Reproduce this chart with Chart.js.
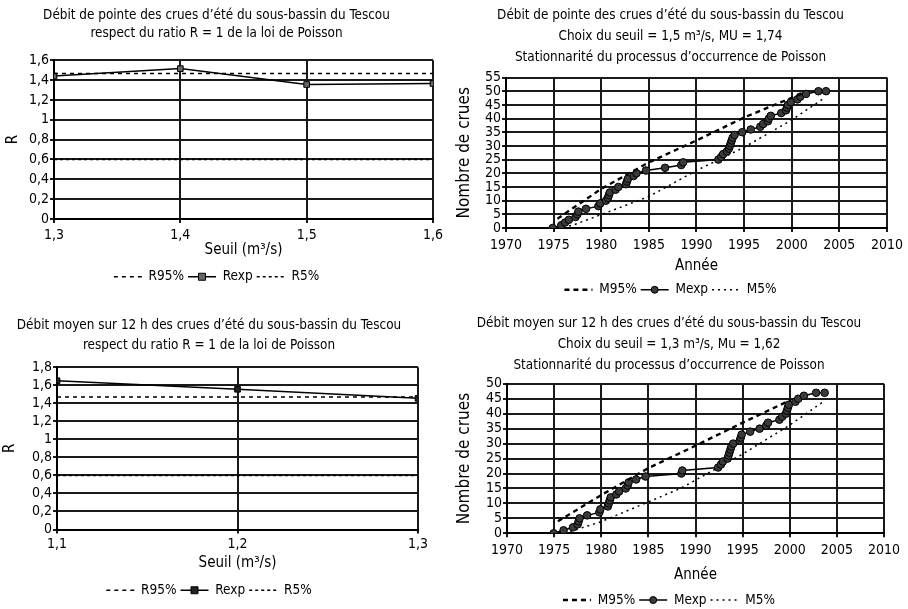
<!DOCTYPE html>
<html>
<head>
<meta charset="utf-8">
<script src="https://cdn.jsdelivr.net/npm/chart.js@4/dist/chart.umd.min.js"></script>
<style>
  body { margin: 0; background: #fff; width: 908px; height: 609px; position: relative; overflow: hidden; }
  canvas { position: absolute; }
</style>
</head>
<body>
<canvas id="ratioPointe" width="454" height="300" style="left:0;top:0"></canvas>
<canvas id="stationPointe" width="454" height="310" style="left:454px;top:0"></canvas>
<canvas id="ratioMoyen" width="454" height="309" style="left:0;top:300px"></canvas>
<canvas id="stationMoyen" width="454" height="320" style="left:454px;top:300px"></canvas>
<script>
// Débit de pointe - ratio R selon le seuil
const seuilPointe = [1.3, 1.4, 1.5, 1.6];
const rexpPointe = [1.44, 1.515, 1.355, 1.365];
const r95Pointe = [1.465, 1.465, 1.465, 1.465];
const r5Pointe = [0.6, 0.6, 0.6, 0.6];

// Débit moyen sur 12 h - ratio R selon le seuil
const seuilMoyen = [1.1, 1.2, 1.3];
const rexpMoyen = [1.65, 1.555, 1.455];
const r95Moyen = [1.47, 1.47, 1.47];
const r5Moyen = [0.6, 0.6, 0.6];

// Débit de pointe - cumul des crues (seuil 1,5 m3/s)
const anneesPointe = [1974.9, 1975.8, 1976.2, 1976.6, 1977.3, 1977.5, 1977.6, 1978.4, 1979.7, 1979.9,
  1980.5, 1980.7, 1980.8, 1980.9, 1981.5, 1981.8, 1982.6, 1982.7, 1982.8, 1983.4,
  1983.7, 1984.7, 1986.7, 1988.4, 1988.6, 1992.3, 1992.6, 1992.8, 1993.2, 1993.4,
  1993.5, 1993.6, 1993.7, 1993.8, 1994.0, 1994.8, 1995.7, 1996.7, 1997.0, 1997.5,
  1997.6, 1997.8, 1998.9, 1999.4, 1999.5, 1999.6, 1999.9, 2000.6, 2000.9, 2001.5,
  2002.8, 2003.6];
const cruesPointe = [0, 1, 2, 3, 4, 5, 6, 7, 8, 9,
  10, 11, 12, 13, 14, 15, 16, 17, 18, 19,
  20, 21, 22, 23, 24, 25, 26, 27, 28, 29,
  30, 31, 32, 33, 34, 35, 36, 37, 38, 39,
  40, 41, 42, 43, 44, 45, 46, 47, 48, 49,
  50, 50];
const m95PointeX = [1975.4, 1980, 1985, 1990, 1995, 2000, 2001];
const m95PointeY = [3.4, 14.3, 24, 32, 40.4, 47.6, 49];
const m5PointeX = [1976, 1977, 1980, 1985, 1990, 1995, 2000, 2003.2];
const m5PointeY = [0.3, 1, 4.9, 11.5, 21, 29.5, 39.5, 47];

// Débit moyen sur 12 h - cumul des crues (seuil 1,3 m3/s)
const anneesMoyen = [1974.95, 1976.0, 1977.0, 1977.5, 1977.6, 1977.7, 1978.5, 1979.8, 1979.9, 1980.7,
  1980.8, 1980.9, 1981.0, 1981.6, 1981.9, 1982.6, 1982.8, 1982.9, 1983.7, 1984.7,
  1988.5, 1988.6, 1992.4, 1992.7, 1992.9, 1993.4, 1993.5, 1993.6, 1993.7, 1993.8,
  1994.0, 1994.7, 1994.8, 1994.9, 1995.8, 1996.8, 1997.5, 1997.7, 1998.9, 1999.2,
  1999.6, 1999.7, 1999.8, 1999.9, 2000.6, 2000.9, 2001.5, 2002.8, 2003.7];
const cruesMoyen = [0, 1, 2, 3, 4, 5, 6, 7, 8, 9,
  10, 11, 12, 13, 14, 15, 16, 17, 18, 19,
  20, 21, 22, 23, 24, 25, 26, 27, 28, 29,
  30, 31, 32, 33, 34, 35, 36, 37, 38, 39,
  40, 41, 42, 43, 44, 45, 46, 47, 47];
const m95MoyenX = [1975.4, 1980, 1985, 1990, 1995, 2000.1];
const m95MoyenY = [4, 12.8, 21.8, 29.3, 37, 44.6];
const m5MoyenX = [1976.1, 1980, 1985, 1988.4, 1990, 1995, 2000, 2003.5];
const m5MoyenY = [0, 3.9, 10.5, 15, 17.8, 26.5, 36.2, 43.9];

const FONT = "'Liberation Sans Narrow', 'DejaVu Sans Condensed', 'Arial Narrow', sans-serif";
const INK = '#000';

function pts(xs, ys) {
  return xs.map((x, i) => ({ x, y: ys[i] }));
}

function fmtComma(v) {
  return String(Number(v.toFixed(1))).replace('.', ',');
}

// draws the marker in the middle of the line of the 2nd legend item
const legendMarker = {
  id: 'legendMarker',
  afterDraw(chart) {
    const legend = chart.legend;
    if (!legend || !legend.legendHitBoxes || !legend.legendHitBoxes[1]) return;
    const box = legend.legendHitBoxes[1];
    const ds = chart.data.datasets[1];
    const w = legend.options.labels.pointStyleWidth;
    const cx = box.left + w / 2;
    const cy = box.top + box.height / 2;
    const r = 3.5;
    const ctx = chart.ctx;
    ctx.save();
    ctx.fillStyle = ds.pointBackgroundColor;
    ctx.strokeStyle = ds.pointBorderColor;
    ctx.lineWidth = 1;
    ctx.beginPath();
    if (ds.pointStyle === 'rect') ctx.rect(cx - r, cy - r, r * 2, r * 2);
    else ctx.arc(cx, cy, r, 0, Math.PI * 2);
    ctx.fill();
    ctx.stroke();
    ctx.restore();
  }
};

function axis(opts) {
  return {
    type: 'linear',
    min: opts.min,
    max: opts.max,
    ticks: {
      stepSize: opts.step,
      color: '#000',
      font: { family: FONT, size: 14 },
      padding: opts.tickPad,
      autoSkip: false,
      maxRotation: 0,
      callback: opts.fmt
    },
    grid: { color: '#1a1a1a', lineWidth: 2, tickLength: 4 },
    border: { color: INK, width: 2 },
    title: {
      display: true,
      text: opts.title,
      color: '#000',
      font: { family: FONT, size: opts.titleSize || 15 },
      padding: opts.titlePad
    },
    afterFit: opts.fit
  };
}

function makeChart(id, cfg) {
  return new Chart(document.getElementById(id), {
    type: 'line',
    data: { datasets: cfg.datasets },
    options: {
      responsive: false,
      animation: false,
      layout: { padding: cfg.padding },
      scales: { x: axis(cfg.x), y: axis(cfg.y) },
      plugins: {
        title: {
          display: true,
          text: cfg.title,
          color: '#000',
          font: { family: FONT, size: 13.4, weight: 'normal', lineHeight: cfg.titleLine },
          padding: cfg.titlePad
        },
        legend: {
          position: 'bottom',
          labels: {
            color: '#000',
            font: { family: FONT, size: 13.5 },
            usePointStyle: true,
            pointStyle: 'line',
            pointStyleWidth: 28,
            padding: 4,
            generateLabels: chart => Chart.defaults.plugins.legend.labels.generateLabels(chart).map(item => {
              const ds = chart.data.datasets[item.datasetIndex];
              return { ...item, lineDash: ds.borderDash || [], lineWidth: ds.borderWidth, strokeStyle: ds.borderColor };
            })
          }
        },
        tooltip: { enabled: false }
      }
    },
    plugins: [legendMarker]
  });
}

function ratioSets(xs, r95, rexp, r5, markerFill) {
  return [
    { label: 'R95%', data: pts(xs, r95), borderColor: INK, borderWidth: 1.5, borderDash: [4, 4], pointRadius: 0 },
    { label: 'Rexp', data: pts(xs, rexp), borderColor: INK, borderWidth: 1.5, pointStyle: 'rect', pointRadius: 4,
      pointBackgroundColor: markerFill, pointBorderColor: '#000', pointBorderWidth: 1 },
    { label: 'R5%', data: pts(xs, r5), borderColor: INK, borderWidth: 1.5, borderDash: [3, 3], pointRadius: 0 }
  ];
}

function stationSets(xs, ys, x95, y95, x5, y5) {
  return [
    { label: 'M95%', data: pts(x95, y95), borderColor: INK, borderWidth: 2.4, borderDash: [5, 4], pointRadius: 0 },
    { label: 'Mexp', data: pts(xs, ys), borderColor: INK, borderWidth: 1.5, pointStyle: 'circle', pointRadius: 3.8,
      pointBackgroundColor: '#3a3a3a', pointBorderColor: '#000', pointBorderWidth: 1 },
    { label: 'M5%', data: pts(x5, y5), borderColor: INK, borderWidth: 1.5, borderDash: [2, 4], pointRadius: 0 }
  ];
}

makeChart('ratioPointe', {
  title: ["Débit de pointe des crues d’été du sous-bassin du Tescou", 'respect du ratio R = 1 de la loi de Poisson'],
  titleLine: 1.35,
  titlePad: { top: 6, bottom: 18 },
  padding: { left: 0, right: 21, top: 0, bottom: 6.5 },
  datasets: ratioSets(seuilPointe, r95Pointe, rexpPointe, r5Pointe, '#666'),
  x: { min: 1.3, max: 1.6, step: 0.1, fmt: fmtComma, title: 'Seuil (m³/s)', tickPad: 4, titlePad: { top: 0, bottom: 7 },
       fit: s => { s.height = 47; } },
  y: { min: 0, max: 1.6, step: 0.2, fmt: fmtComma, title: 'R', tickPad: 1, titlePad: { top: 4, bottom: 0 },
       fit: s => { s.width = 54; } }
});

makeChart('stationPointe', {
  title: ["Débit de pointe des crues d’été du sous-bassin du Tescou", 'Choix du seuil = 1,5 m³/s, MU = 1,74',
          'Stationnarité du processus d’occurrence de Poisson'],
  titleLine: 1.58,
  titlePad: { top: 4.5, bottom: 9.5 },
  padding: { left: 0, right: 21, top: 0, bottom: 3.5 },
  datasets: stationSets(anneesPointe, cruesPointe, m95PointeX, m95PointeY, m5PointeX, m5PointeY),
  x: { min: 1970, max: 2010, step: 5, fmt: v => String(v), title: 'Année', tickPad: 5, titlePad: { top: 0, bottom: 4 },
       fit: s => { s.height = 51; } },
  y: { min: 0, max: 55, step: 5, fmt: v => String(v), title: 'Nombre de crues', titleSize: 17, tickPad: 1,
       titlePad: { top: 0, bottom: 0 }, fit: s => { s.width = 52; } }
});

makeChart('ratioMoyen', {
  title: ['Débit moyen sur 12 h des crues d’été du sous-bassin du Tescou', 'respect du ratio R = 1 de la loi de Poisson'],
  titleLine: 1.5,
  titlePad: { top: 15, bottom: 12 },
  padding: { left: 0, right: 36, top: 0, bottom: 2 },
  datasets: ratioSets(seuilMoyen, r95Moyen, rexpMoyen, r5Moyen, '#222'),
  x: { min: 1.1, max: 1.3, step: 0.1, fmt: fmtComma, title: 'Seuil (m³/s)', tickPad: 2, titlePad: { top: 0, bottom: 7 },
       fit: s => { s.height = 50; } },
  y: { min: 0, max: 1.8, step: 0.2, fmt: fmtComma, title: 'R', tickPad: 1, titlePad: { top: 1, bottom: 0 },
       fit: s => { s.width = 57; } }
});

makeChart('stationMoyen', {
  title: ['Débit moyen sur 12 h des crues d’été du sous-bassin du Tescou', 'Choix du seuil = 1,3 m³/s, Mu = 1,62',
          'Stationnarité du processus d’occurrence de Poisson'],
  titleLine: 1.58,
  titlePad: { top: 12.8, bottom: 7.5 },
  padding: { left: 0, right: 24, top: 0, bottom: 3.2 },
  datasets: stationSets(anneesMoyen, cruesMoyen, m95MoyenX, m95MoyenY, m5MoyenX, m5MoyenY),
  x: { min: 1970, max: 2010, step: 5, fmt: v => String(v), title: 'Année', tickPad: 4.3, titlePad: { top: 0, bottom: 5.3 },
       fit: s => { s.height = 56; } },
  y: { min: 0, max: 50, step: 5, fmt: v => String(v), title: 'Nombre de crues', titleSize: 17, tickPad: 1,
       titlePad: { top: 0, bottom: 0 }, fit: s => { s.width = 53; } }
});
</script>
</body>
</html>
